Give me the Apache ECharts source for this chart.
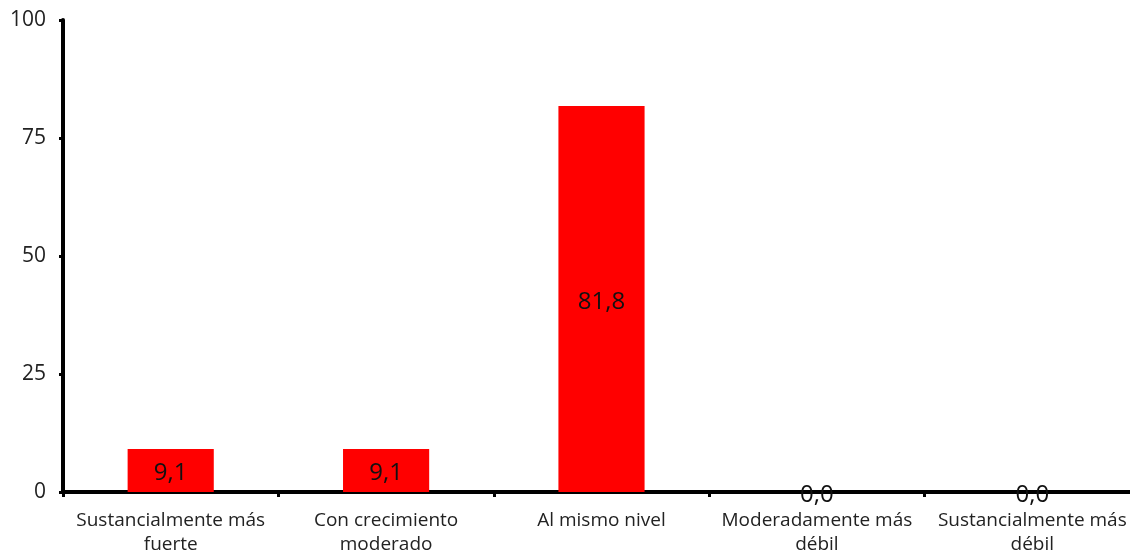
<!DOCTYPE html>
<html><head><meta charset="utf-8">
<script src="https://cdn.jsdelivr.net/npm/echarts@6/dist/echarts.min.js"></script>
<style>html,body{margin:0;padding:0;background:#fff}#c{width:1130px;height:552px}</style>
</head><body><div id="c"></div>
<script>
const categories = ["Sustancialmente más\nfuerte", "Con crecimiento\nmoderado", "Al mismo nivel", "Moderadamente más\ndébil", "Sustancialmente más\ndébil"];
const values = [9.1, 9.1, 81.8, 0.0, 0.0];
const yTicks = [0, 25, 50, 75, 100];

const chart = echarts.init(document.getElementById('c'));
chart.setOption({
  animation: false,
  textStyle: {fontFamily: '"Open Sans", "Noto Sans", sans-serif'},
  grid: {left: 63, top: 20, height: 472, width: 1077, containLabel: false, outerBoundsMode: 'none'},
  xAxis: {
    type: 'category', data: categories,
    axisLine: {lineStyle: {color: '#000', width: 4}},
    axisTick: {show: true, length: 5, lineStyle: {color: '#000', width: 3}},
    axisLabel: {color: '#222', fontSize: 19, lineHeight: 24, margin: 17, interval: 0, fontFamily: '"Open Sans", sans-serif'}
  },
  yAxis: {
    type: 'value', min: yTicks[0], max: yTicks[yTicks.length-1], interval: 25,
    axisLine: {show: true, lineStyle: {color: '#000', width: 4}},
    axisTick: {show: true, length: 4, lineStyle: {color: '#000', width: 3}},
    splitLine: {show: false},
    axisLabel: {color: '#222', fontSize: 21, margin: 17, fontFamily: '"Open Sans", sans-serif'}
  },
  series: [{
    type: 'bar', data: values, barWidth: '40%',
    itemStyle: {color: '#FF0000'},
    label: {show: true, position: 'inside', offset: [0, 3], color: '#111', fontSize: 24,
      fontFamily: '"Open Sans", sans-serif',
      formatter: p => p.value.toFixed(1).replace('.', ',')}
  }]
});
</script></body></html>
